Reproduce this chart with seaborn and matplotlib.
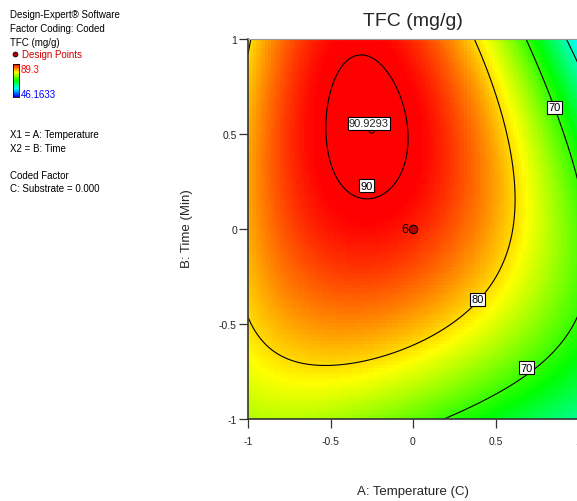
import numpy as np
import pandas as pd
import matplotlib
matplotlib.use("Agg")
import matplotlib.pyplot as plt
from matplotlib.colors import LinearSegmentedColormap
import seaborn as sns

# Fitted response-surface model (coded units), C: Substrate = 0
# terms: 1, A, B, AB, A^2, B^2, A^2B, AB^2, A^3, B^3
model_terms = ["1", "A", "B", "AB", "A2", "B2", "A2B", "AB2", "A3", "B3"]
model_coef = [87.9300, -6.8932, 7.8148, -2.2868, -11.2467, -8.3988, -8.0092, -3.7645, 1.6023, 0.0387]

contour_levels = [60, 70, 80, 90]
color_min, color_max = 46.1633, 89.3

# contour label texts and where they sit (coded A, B)
label_texts = ["90", "80", "70", "70"]
label_a = [-0.28, 0.39, 0.86, 0.69]
label_b = [0.228, -0.37, 0.64, -0.73]

# predicted maximum
max_text = "90.9293"
max_a, max_b = -0.25, 0.52

# design points
design = pd.DataFrame({"A": [0.0], "B": [0.0], "runs": ["6"]})

ticks = [-1, -0.5, 0, 0.5, 1]
tick_labels = ["-1", "-0.5", "0", "0.5", "1"]


def surface(a, b):
    c = model_coef
    terms = [np.ones_like(a), a, b, a * b, a**2, b**2, a**2 * b, a * b**2, a**3, b**3]
    return sum(ci * t for ci, t in zip(c, terms))


sns.set_style("ticks")
plt.rcParams['font.family'] = ['Liberation Sans', 'DejaVu Sans']

W, H = 577, 502
fig = plt.figure(figsize=(W / 100, H / 100), dpi=100)
fig.patch.set_facecolor("white")
ax = fig.add_axes([248 / W, 1 - 420 / H, 330 / W, 380 / H])

grid = np.linspace(-1, 1, 110)
GA, GB = np.meshgrid(grid, grid)
Z = surface(GA, GB)
cmap = LinearSegmentedColormap.from_list(
    "de", [(0, "#0000ff"), (0.25, "#00ffff"), (0.5, "#00ff00"), (0.75, "#ffff00"), (1, "#ff0000")])
ax.pcolormesh(GA, GB, Z, cmap=cmap, vmin=color_min, vmax=color_max, shading="nearest", rasterized=True)
ax.contour(GA, GB, Z, levels=contour_levels, colors="k", linewidths=0.8)

for t, a, b in zip(label_texts, label_a, label_b):
    ax.text(a, b, t, ha="center", va="center", fontsize=8, color="k", zorder=5,
            bbox=dict(boxstyle="square,pad=0.12", fc="white", ec="k", lw=0.8))

# max flag
ax.scatter([max_a], [max_b], s=18, facecolors="none", edgecolors="k", linewidths=0.7, zorder=4)
ax.text(max_a - 0.017, max_b + 0.037, max_text, ha="center", va="center", fontsize=8, zorder=6,
        bbox=dict(boxstyle="square,pad=0.12", fc="white", ec="k", lw=0.8))

sns.scatterplot(data=design, x="A", y="B", ax=ax, s=36, color="#b00000", edgecolor="k",
                linewidth=0.8, zorder=6, legend=False, clip_on=False)
for _, r in design.iterrows():
    ax.text(r["A"] - 0.025, r["B"], r["runs"], ha="right", va="center", fontsize=9, color="k", zorder=6)

ax.set_xlim(-1, 1)
ax.set_ylim(-1, 1)
ax.set_xticks(ticks)
ax.set_xticklabels(tick_labels)
ax.set_yticks(ticks)
ax.set_yticklabels(tick_labels)
ax.set_xlabel("")
ax.set_ylabel("")
ax.tick_params(axis="x", direction="out", length=6.5, width=0.9, color="#333333", labelsize=7.5, pad=6)
ax.tick_params(axis="y", direction="out", length=6.5, width=0.9, color="#333333", labelsize=7.5, pad=1.5)
for s in ["left", "bottom"]:
    ax.spines[s].set_color("#333333")
    ax.spines[s].set_linewidth(1.2)
ax.spines["top"].set_color("#999999")
ax.spines["top"].set_linewidth(0.8)
ax.spines["right"].set_visible(False)

fig.text(413 / W, 1 - 22 / H, "TFC (mg/g)", ha="center", va="center", fontsize=14)
fig.text(413 / W, 1 - 492 / H, "A: Temperature (C)", ha="center", va="center", fontsize=9.5)
fig.text(187 / W, 1 - 229 / H, "B: Time (Min)", ha="center", va="center", fontsize=9.5, rotation=90)

# left info block
fs = 7
def line(y, s, color="k", x=10):
    fig.text(x / W, 1 - y / H, s, ha="left", va="center", fontsize=fs, color=color)

line(15, "Design-Expert® Software")
line(29, "Factor Coding: Coded")
line(43, "TFC (mg/g)")
line(55, "Design Points", color="#cc0000", x=22)
line(70, "89.3", color="#ff0000", x=21)
line(95, "46.1633", color="#0000ff", x=21)
line(135, "X1 = A: Temperature")
line(149, "X2 = B: Time")
line(176, "Coded Factor")
line(189, "C: Substrate = 0.000")

dot_ax = fig.add_axes([0, 0, 1, 1], facecolor="none")
dot_ax.set_xlim(0, W)
dot_ax.set_ylim(H, 0)
dot_ax.axis("off")
dot_ax.scatter([15], [55], s=12, color="#b00000", edgecolor="k", linewidth=0.6)

cax = fig.add_axes([13 / W, 1 - 98 / H, 6 / W, 33 / H])
cax.imshow(np.linspace(1, 0, 100)[:, None], aspect="auto", cmap=cmap, extent=[0, 1, 0, 1])
cax.set_xticks([])
cax.set_yticks([])
for s in cax.spines.values():
    s.set_linewidth(0.6)
    s.set_color("k")

fig.savefig("out.png", dpi=100)
